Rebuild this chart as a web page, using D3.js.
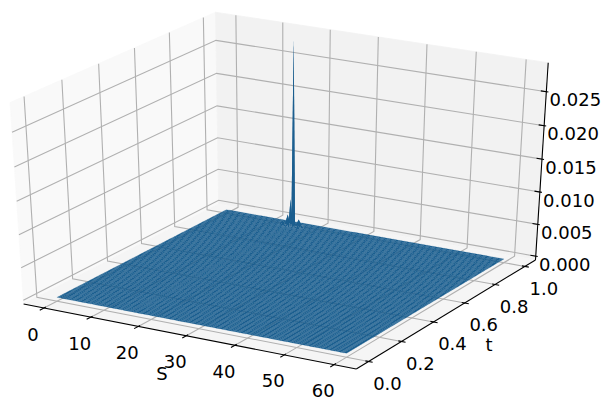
<!DOCTYPE html>
<html>
<head>
<meta charset="utf-8">
<script src="https://cdn.jsdelivr.net/npm/d3@7"></script>
<style>
html, body { margin: 0; padding: 0; background: #fff; }
text { font-family: "DejaVu Sans"; fill: #000; }
</style>
</head>
<body>
<div id="chart"></div>
<script>
// surface grid, tighter around the spike
var sGrid = [0,0.6,1.2,1.8,2.4,3,3.6,4.2,4.8,5.4,6,6.6,7.2,7.8,8.4,9,9.6,10.2,10.8,11.4,12,12.6,13.2,13.8,14.4,15,15.3,15.6,15.8,16.2,16.6,16.8,17.4,18,18.6,19.2,19.8,20.4,21,21.6,22.2,22.8,23.4,24,24.6,25.2,25.8,26.4,27,27.6,28.2,28.8,29.4,30,30.6,31.2,31.8,32.4,33,33.6,34.2,34.8,35.4,36,36.6,37.2,37.8,38.4,39,39.6,40.2,40.8,41.4,42,42.6,43.2,43.8,44.4,45,45.6,46.2,46.8,47.4,48,48.6,49.2,49.8,50.4,51,51.6,52.2,52.8,53.4,54,54.6,55.2,55.8,56.4,57,57.6,58.2,58.8,59.4,60];
var tGrid = [0,0.01,0.02,0.03,0.04,0.05,0.06,0.07,0.08,0.09,0.1,0.11,0.12,0.13,0.14,0.15,0.16,0.17,0.18,0.19,0.2,0.21,0.22,0.23,0.24,0.25,0.26,0.27,0.28,0.29,0.3,0.31,0.32,0.33,0.34,0.35,0.36,0.37,0.38,0.39,0.4,0.41,0.42,0.43,0.44,0.45,0.46,0.47,0.48,0.49,0.5,0.51,0.52,0.53,0.54,0.55,0.56,0.57,0.58,0.59,0.6,0.61,0.62,0.63,0.64,0.65,0.66,0.67,0.68,0.69,0.7,0.71,0.72,0.73,0.74,0.75,0.76,0.77,0.78,0.79,0.8,0.81,0.82,0.83,0.84,0.85,0.86,0.87,0.88,0.89,0.9,0.91,0.92,0.93,0.94,0.95,0.96,0.97,0.98,0.99,1];

// nonzero part of the surface, everything else is flat at 0
var peakS = [16.2, 15.6, 15, 13.8, 17.4, 18, 14.4, 15.3, 15.8, 16.6, 16.8, 15.6, 15.6, 15, 15, 17.4, 17.4];
var peakT = [0.96, 0.96, 0.96, 0.96, 0.96, 0.96, 0.96, 0.96, 0.96, 0.96, 0.96, 0.95, 0.97, 0.95, 0.97, 0.95, 0.97];
var peakZ = [0.0286, 0.0042, 0.0017, 0.0005, 0.0012, 0.0003, 0.0001, 0.0005, 0.0006, 0.0004, 0.0002, 0.0012, 0.0012, 0.0005, 0.0005, 0.0004, 0.0004];

var sTicks = [0,10,20,30,40,50,60];
var tTicks = [0,0.2,0.4,0.6,0.8,1];
var zTicks = [0,0.005,0.01,0.015,0.02,0.025];

var svgWidth = 602, svgHeight = 418;
var svg = d3.select("#chart").append("svg")
    .attr("width", svgWidth).attr("height", svgHeight);

// axis limits the way the 3d axes pad them
var sLim = [-4.375, 64.375];
var tLim = [-0.0729, 1.0729];
var zLim = [-0.0286/48, 0.0286*49/48];

var sScale = d3.scaleLinear().domain(sLim).range([-0.5, 0.5]);
var tScale = d3.scaleLinear().domain(tLim).range([-0.5, 0.5]);
var zScale = d3.scaleLinear().domain(zLim).range([-0.5, 0.5]);

// view plane to pixels
var pxX = d3.scaleLinear().domain([-0.1, 0.1]).range([283.5 - 384, 283.5 + 384]);
var pxY = d3.scaleLinear().domain([-0.1, 0.1]).range([184.5 + 230, 184.5 - 230]);

// elev 30, azim -60, eye distance 10
var eyeDist = 10;
var n = [0.4330127, -0.75, 0.5];
var u = [0.8660254, 0.5, 0];
var v = [-0.25, 0.4330127, 0.8660254];
function dot(a, b) { return a[0]*b[0] + a[1]*b[1] + a[2]*b[2]; }
function depth(p) { return eyeDist - dot(p, n); }
function project(p) {
    var w = depth(p);
    return [pxX(dot(p, u) / w), pxY(dot(p, v) / w)];
}
var lineGen = d3.line();
function polyline(pts) { return lineGen(pts.map(project)); }

var x0 = -0.5, x1 = 0.5, y0 = -0.5, y1 = 0.5, z0 = -0.5, z1 = 0.5;

// panes
var panes = [
    {fill: "#f9f9f9", pts: [[x0,y0,z0],[x0,y1,z0],[x0,y1,z1],[x0,y0,z1]]},
    {fill: "#f2f2f2", pts: [[x0,y1,z0],[x1,y1,z0],[x1,y1,z1],[x0,y1,z1]]},
    {fill: "#f5f5f5", pts: [[x0,y0,z0],[x1,y0,z0],[x1,y1,z0],[x0,y1,z0]]}
];
svg.append("g").selectAll("path").data(panes).enter().append("path")
    .attr("d", function(d) { return polyline(d.pts) + "Z"; })
    .attr("fill", function(d) { return d.fill; })
    .attr("stroke", function(d) { return d.fill; })
    .attr("stroke-width", 0.8);

// grid
var gridPaths = [];
sTicks.forEach(function(s) {
    var x = sScale(s);
    gridPaths.push([[x,y0,z0],[x,y1,z0],[x,y1,z1]]);
});
tTicks.forEach(function(t) {
    var y = tScale(t);
    gridPaths.push([[x1,y,z0],[x0,y,z0],[x0,y,z1]]);
});
zTicks.forEach(function(z) {
    var h = zScale(z);
    gridPaths.push([[x1,y1,h],[x0,y1,h],[x0,y0,h]]);
});
svg.append("g").selectAll("path").data(gridPaths).enter().append("path")
    .attr("d", polyline)
    .attr("fill", "none")
    .attr("stroke", "#b0b0b0")
    .attr("stroke-width", 1.1);

// axis lines
var axisPaths = [
    [[x0,y0,z0],[x1,y0,z0]],
    [[x1,y0,z0],[x1,y1,z0]],
    [[x1,y1,z0],[x1,y1,z1]]
];
sTicks.forEach(function(s) {
    var x = sScale(s);
    axisPaths.push([[x,y0-0.02,z0],[x,y0+0.009,z0]]);
});
tTicks.forEach(function(t) {
    var y = tScale(t);
    axisPaths.push([[x1+0.012,y,z0],[x1-0.009,y,z0]]);
});
zTicks.forEach(function(z) {
    var h = zScale(z);
    axisPaths.push([[x1+0.006,y1,h],[x1-0.016,y1,h]]);
});
svg.append("g").selectAll("path").data(axisPaths).enter().append("path")
    .attr("d", polyline)
    .attr("fill", "none")
    .attr("stroke", "#000")
    .attr("stroke-width", 1.1);

// surface
var peakLookup = {};
peakS.forEach(function(s, k) { peakLookup[s + "_" + peakT[k]] = peakZ[k]; });
function zAt(s, t) { return peakLookup[s + "_" + t] || 0; }

var facets = [];
for (var i = 0; i < sGrid.length - 1; i++) {
    for (var j = 0; j < tGrid.length - 1; j++) {
        var raised = false;
        var corners = [[i,j],[i+1,j],[i+1,j+1],[i,j+1]].map(function(c) {
            var s = sGrid[c[0]], t = tGrid[c[1]], z = zAt(s, t);
            if (z > 0) raised = true;
            return [sScale(s), tScale(t), zScale(z)];
        });
        facets.push({
            pts: corners,
            raised: raised,
            w: d3.mean(corners, depth)
        });
    }
}
facets.sort(function(a, b) { return b.w - a.w; });
svg.append("g").selectAll("path").data(facets).enter().append("path")
    .attr("d", function(d) { return polyline(d.pts) + "Z"; })
    .attr("fill", "#1b5e8f")
    .attr("stroke", function(d) { return d.raised ? "none" : "#1b5e8f"; })
    .attr("stroke-width", 0.15);

// tick labels
function addLabels(ticks, fmt, pos, dx, dy) {
    svg.append("g").selectAll("text").data(ticks).enter().append("text")
        .attr("x", function(d) { return project(pos(d))[0] + dx; })
        .attr("y", function(d) { return project(pos(d))[1] + dy; })
        .attr("text-anchor", "middle")
        .attr("dominant-baseline", "central")
        .attr("font-size", "18px")
        .text(fmt);
}
addLabels(sTicks, d3.format("d"), function(d) { return [sScale(d), y0, z0]; }, -11, 26);
addLabels(tTicks, d3.format(".1f"), function(d) { return [x1, tScale(d), z0]; }, 19, 22);
addLabels(zTicks, d3.format(".3f"), function(d) { return [x1, y1, zScale(d)]; }, 29, 8);

// axis names
svg.append("text").attr("x", 162).attr("y", 373)
    .attr("text-anchor", "middle").attr("dominant-baseline", "central")
    .attr("font-size", "18px").text("S");
svg.append("text").attr("x", 489).attr("y", 344)
    .attr("text-anchor", "middle").attr("dominant-baseline", "central")
    .attr("font-size", "18px").text("t");
</script>
</body>
</html>
